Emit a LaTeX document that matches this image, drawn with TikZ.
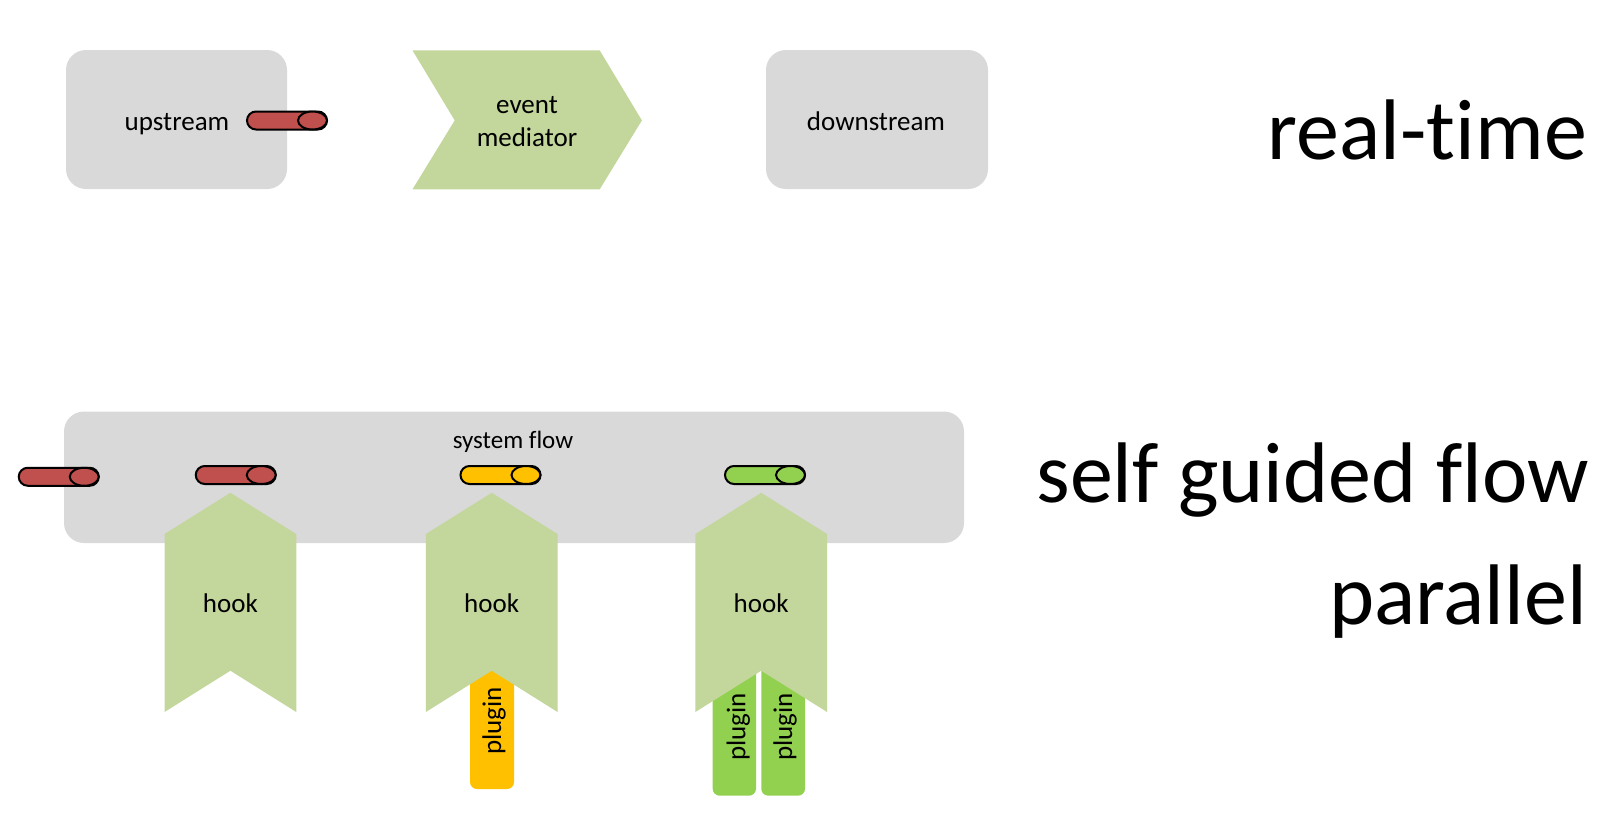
\documentclass[tikz,border=0pt]{standalone}
\usepackage{fontspec}
\setmainfont{Carlito}[Ligatures=NoCommon]
\definecolor{boxgray}{HTML}{D9D9D9}
\definecolor{olive}{HTML}{C3D69B}
\definecolor{tubered}{HTML}{C0504D}
\definecolor{tubeyellow}{HTML}{FFC000}
\definecolor{tubegreen}{HTML}{92D050}
\tikzset{
  graybox/.style={fill=boxgray, rounded corners=20pt},
  olivefill/.style={fill=olive},
  tubeline/.style={draw=black, line width=2pt},
  lbl/.style={font=\fontsize{27}{33}\selectfont, inner sep=0pt, align=center},
  biglbl/.style={font=\fontsize{86}{100}\selectfont, inner sep=0pt, anchor=base east},
  pics/tube/.style={code={
    \draw[tubeline, fill=#1, rounded corners=9pt] (-40,-9) rectangle (40,9);
    \draw[tubeline, fill=#1] (25.5,0) ellipse [x radius=14.5pt, y radius=9pt];
  }}
}
\newcommand\hookat[2]{%
  \fill[olivefill] ({#1-65.85},534) -- (#1,492.8) -- ({#1+65.85},534) -- ({#1+65.85},712) -- (#1,670.7) -- ({#1-65.85},712) -- cycle;
  \node[lbl] (#2) at (#1,603) {hook};
}
\begin{document}
\begin{tikzpicture}[x=1pt, y=-1pt]
\useasboundingbox (0,0) rectangle (1613,817);
% top row
\fill[graybox] (66,50) rectangle (287,189);
\node[lbl] (up) at (177,124) {upstream};
\pic at (287,120.5) {tube=tubered};
\fill[olivefill] (412.5,50.4) -- (599.7,50.4) -- (641.9,120.4) -- (599.7,189.3) -- (412.5,189.3) -- (454.7,120.4) -- cycle;
\node[lbl] (med) at (527,122) {event\\mediator};
\fill[graybox] (766,50) rectangle (988,189);
\node[lbl] (down) at (876,121) {downstream};
% system flow
\fill[graybox] (64,411.5) rectangle (964,543);
\node[lbl, font=\fontsize{25}{30}\selectfont] (sys) at (513,442) {system flow};
\pic at (58.75,476.75) {tube=tubered};
\pic at (235.75,475) {tube=tubered};
\pic at (500.5,475) {tube=tubeyellow};
\pic at (765,475) {tube=tubegreen};
% plugins
\fill[tubeyellow, rounded corners=7pt] (470,650) rectangle (514,789);
\fill[tubegreen, rounded corners=7pt] (712.7,650) rectangle (756,795.7);
\fill[tubegreen, rounded corners=7pt] (761.3,650) rectangle (805,795.7);
% hooks
\hookat{230.4}{h1}
\hookat{491.7}{h2}
\hookat{761.2}{h3}
\node[lbl, rotate=90] (p1) at (494,720.7) {plugin};
\node[lbl, rotate=90] (p2) at (738.3,726.7) {plugin};
\node[lbl, rotate=90] (p3) at (785,726.7) {plugin};
% right labels
\node[biglbl] (rt) at (1587,159.5) {real-time};
\node[biglbl] (sg) at (1589,502) {self guided flow};
\node[biglbl] (par) at (1587,624.5) {parallel};
\end{tikzpicture}
\end{document}
